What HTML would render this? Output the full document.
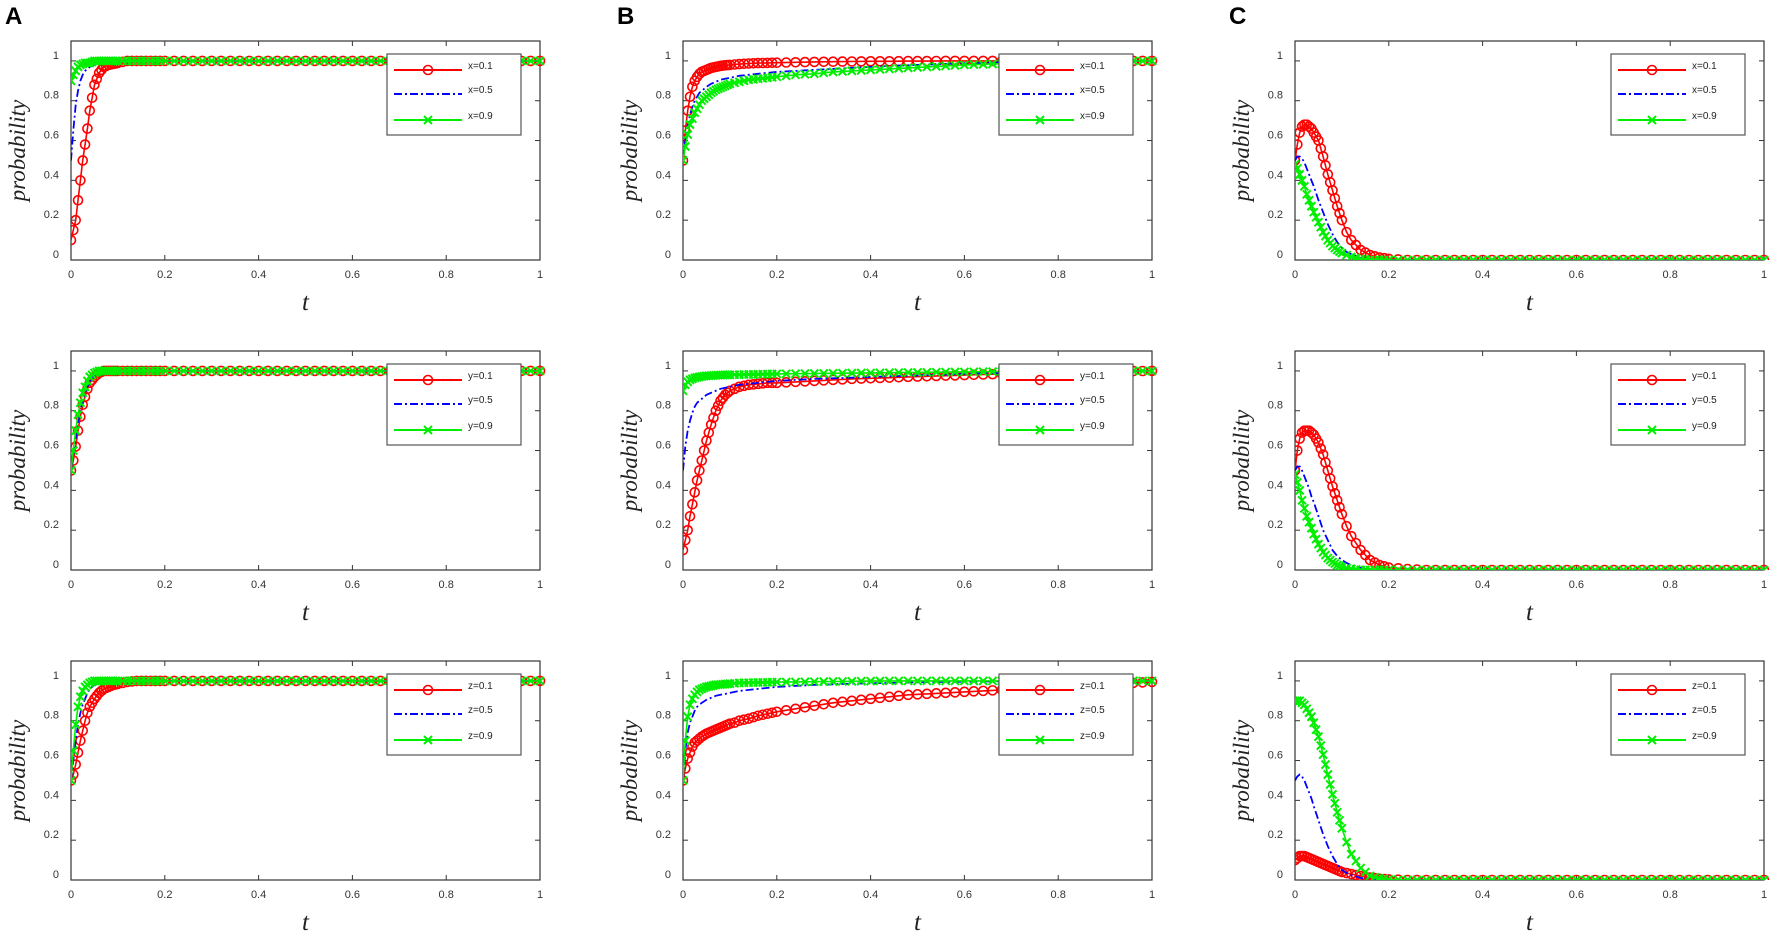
<!DOCTYPE html>
<html><head><meta charset="utf-8"><style>
html,body{margin:0;padding:0;background:#fff;}
svg{display:block;}
</style></head><body>
<svg id="fig" width="1772" height="939" xmlns="http://www.w3.org/2000/svg"></svg>
<script>
// shared time grid
const tGrid = [0,.005,.01,.015,.02,.025,.03,.035,.04,.05,.06,.07,.08,.09,.1,.11,.12,.14,.16,.18,.2,
 .24,.28,.32,.36,.4,.44,.48,.52,.56,.6,.64,.68,.72,.76,.8,.84,.88,.92,.96,1.0];
const xTicks = [0,0.2,0.4,0.6,0.8,1];
const yTicks = [0,0.2,0.4,0.6,0.8,1];
const xTickLabels = ['0','0.2','0.4','0.6','0.8','1'];
const yTickLabels = ['0','0.2','0.4','0.6','0.8','1'];
const panelLetters = ['A','B','C'];
const legendVars = ['x','y','z'];
const legendLevels = ['0.1','0.5','0.9'];

// Column A
const A1_red   = [.1,.15,.2,.3,.4,.5,.58,.66,.75,.88,.94,.97,.98,.985,.99,.995,1,1,1,1,1, 1,1,1,1,1,1,1,1,1,1,1,1,1,1,1,1,1,1,1,1];
const A1_blue  = [.5,.65,.78,.85,.9,.93,.95,.96,.97,.98,.99,1,1,1,1,1,1,1,1,1,1, 1,1,1,1,1,1,1,1,1,1,1,1,1,1,1,1,1,1,1,1];
const A1_green = [.9,.93,.95,.97,.98,.985,.99,.99,.99,1,1,1,1,1,1,1,1,1,1,1,1, 1,1,1,1,1,1,1,1,1,1,1,1,1,1,1,1,1,1,1,1];
const A2_red   = [.5,.55,.62,.7,.77,.83,.87,.91,.94,.97,.99,1,1,1,1,1,1,1,1,1,1, 1,1,1,1,1,1,1,1,1,1,1,1,1,1,1,1,1,1,1,1];
const A2_blue  = [.5,.58,.66,.74,.8,.85,.89,.92,.95,.98,.99,1,1,1,1,1,1,1,1,1,1, 1,1,1,1,1,1,1,1,1,1,1,1,1,1,1,1,1,1,1,1];
const A2_green = [.5,.6,.7,.78,.84,.89,.92,.95,.97,.99,1,1,1,1,1,1,1,1,1,1,1, 1,1,1,1,1,1,1,1,1,1,1,1,1,1,1,1,1,1,1,1];
const A3_red   = [.5,.53,.58,.64,.7,.75,.8,.84,.87,.91,.94,.96,.97,.98,.985,.99,.995,1,1,1,1, 1,1,1,1,1,1,1,1,1,1,1,1,1,1,1,1,1,1,1,1];
const A3_blue  = [.5,.6,.7,.78,.84,.88,.91,.94,.96,.98,.99,1,1,1,1,1,1,1,1,1,1, 1,1,1,1,1,1,1,1,1,1,1,1,1,1,1,1,1,1,1,1];
const A3_green = [.5,.65,.78,.87,.92,.95,.97,.98,.99,1,1,1,1,1,1,1,1,1,1,1,1, 1,1,1,1,1,1,1,1,1,1,1,1,1,1,1,1,1,1,1,1];
// Column B
const B1_red   = [.5,.65,.75,.82,.87,.9,.92,.935,.945,.955,.965,.97,.975,.978,.98,.982,.984,.987,.989,.99,.991, .993,.995,.996,.997,.998,.998,.999,.999,1,1,1,1,1,1,1,1,1,1,1,1];
const B1_blue  = [.5,.6,.68,.73,.77,.8,.82,.84,.85,.87,.885,.895,.905,.91,.915,.92,.925,.93,.935,.94,.945, .95,.955,.96,.965,.97,.975,.978,.982,.985,.988,.99,.992,.994,.996,.997,.998,.999,1,1,1];
const B1_green = [.5,.57,.63,.68,.71,.74,.76,.78,.8,.82,.84,.855,.865,.875,.885,.89,.895,.905,.91,.915,.92, .93,.935,.945,.95,.955,.96,.965,.97,.975,.98,.983,.986,.989,.992,.994,.996,.998,.999,1,1];
const B2_red   = [.1,.15,.2,.27,.33,.39,.45,.5,.55,.65,.73,.8,.85,.88,.9,.91,.92,.93,.935,.94,.94, .945,.95,.955,.96,.963,.966,.97,.973,.976,.979,.982,.985,.988,.99,.992,.994,.996,.998,.999,1];
const B2_blue  = [.5,.62,.7,.75,.79,.82,.84,.85,.86,.88,.89,.9,.91,.915,.92,.925,.93,.935,.94,.945,.95, .955,.96,.963,.966,.97,.973,.976,.979,.982,.985,.988,.99,.992,.994,.996,.997,.998,.999,1,1];
const B2_green = [.9,.93,.945,.955,.96,.965,.968,.97,.972,.975,.977,.978,.979,.98,.98,.981,.981,.982,.983,.984,.985, .986,.987,.988,.989,.99,.991,.992,.993,.994,.995,.996,.997,.998,.998,.999,.999,1,1,1,1];
const B3_red   = [.5,.56,.61,.64,.67,.69,.7,.71,.72,.735,.745,.755,.765,.775,.785,.79,.8,.81,.825,.835,.845, .86,.875,.89,.9,.91,.92,.93,.935,.94,.945,.95,.955,.96,.965,.97,.975,.98,.985,.99,.995];
const B3_blue  = [.5,.65,.74,.79,.82,.85,.87,.88,.89,.905,.915,.925,.93,.935,.94,.945,.95,.955,.96,.965,.97, .975,.98,.983,.986,.988,.99,.992,.994,.995,.996,.997,.998,.999,1,1,1,1,1,1,1];
const B3_green = [.5,.7,.82,.88,.91,.93,.945,.955,.96,.97,.975,.98,.982,.984,.986,.988,.99,.991,.992,.993,.994, .995,.996,.997,.998,.999,1,1,1,1,1,1,1,1,1,1,1,1,1,1,1];
// Column C
const C1_red   = [.5,.58,.64,.67,.68,.68,.67,.66,.64,.6,.52,.43,.35,.27,.2,.14,.1,.05,.025,.012,.006, 0,0,0,0,0,0,0,0,0,0,0,0,0,0,0,0,0,0,0,0];
const C1_blue  = [.5,.52,.52,.51,.49,.46,.43,.4,.37,.3,.24,.18,.13,.09,.06,.04,.03,.01,.005,0,0, 0,0,0,0,0,0,0,0,0,0,0,0,0,0,0,0,0,0,0,0];
const C1_green = [.48,.46,.43,.4,.37,.33,.3,.27,.24,.19,.14,.1,.07,.05,.035,.025,.015,.005,0,0,0, 0,0,0,0,0,0,0,0,0,0,0,0,0,0,0,0,0,0,0,0];
const C2_red   = [.5,.6,.66,.69,.7,.7,.7,.69,.68,.64,.58,.5,.42,.35,.28,.22,.17,.1,.05,.025,.012, .005,0,0,0,0,0,0,0,0,0,0,0,0,0,0,0,0,0,0,0];
const C2_blue  = [.5,.52,.52,.5,.47,.44,.41,.37,.34,.27,.2,.15,.1,.07,.05,.035,.025,.01,.004,0,0, 0,0,0,0,0,0,0,0,0,0,0,0,0,0,0,0,0,0,0,0];
const C2_green = [.48,.44,.4,.35,.31,.27,.24,.21,.18,.13,.09,.06,.04,.025,.015,.01,.006,0,0,0,0, 0,0,0,0,0,0,0,0,0,0,0,0,0,0,0,0,0,0,0,0];
const C3_red   = [.1,.11,.12,.12,.12,.115,.11,.105,.1,.09,.08,.07,.06,.05,.04,.035,.03,.02,.012,.006,.003, 0,0,0,0,0,0,0,0,0,0,0,0,0,0,0,0,0,0,0,0];
const C3_blue  = [.5,.52,.53,.52,.5,.47,.44,.41,.37,.3,.23,.17,.12,.08,.05,.035,.025,.01,.004,0,0, 0,0,0,0,0,0,0,0,0,0,0,0,0,0,0,0,0,0,0,0];
const C3_green = [.9,.9,.9,.89,.88,.86,.84,.82,.79,.72,.63,.53,.43,.34,.26,.19,.13,.06,.02,.008,.003, 0,0,0,0,0,0,0,0,0,0,0,0,0,0,0,0,0,0,0,0];

const panels = [
  [[A1_red,A1_blue,A1_green],[A2_red,A2_blue,A2_green],[A3_red,A3_blue,A3_green]],
  [[B1_red,B1_blue,B1_green],[B2_red,B2_blue,B2_green],[B3_red,B3_blue,B3_green]],
  [[C1_red,C1_blue,C1_green],[C2_red,C2_blue,C2_green],[C3_red,C3_blue,C3_green]]
];

const NS='http://www.w3.org/2000/svg';
const svg=document.getElementById('fig');
function mk(tag,attrs,parent){const e=document.createElementNS(NS,tag);for(const k in attrs)e.setAttribute(k,attrs[k]);(parent||svg).appendChild(e);return e;}

// marker sampling positions along the curve (solver-like spacing: dense early)
const markerT=[];
for(let t=0;t<0.1-1e-9;t+=0.005)markerT.push(t);
for(let t=0.1;t<0.2-1e-9;t+=0.01)markerT.push(t);
for(let t=0.2;t<=1+1e-9;t+=0.02)markerT.push(t);
function interp(vals,t){
  for(let i=1;i<tGrid.length;i++){
    if(t<=tGrid[i]+1e-12){const a=tGrid[i-1],b=tGrid[i];const f=(t-a)/(b-a);return vals[i-1]+(vals[i]-vals[i-1])*f;}
  }
  return vals[vals.length-1];
}

const LEFTS=[71,683,1295], TOPS=[41,351,661], W=469, H=219, YMAX=1.1;
const COLORS=['#ff0000','#0000ff','#00ee00'];

panelLetters.forEach((L,c)=>{
  const t=mk('text',{x:LEFTS[c]-66,y:24,'font-family':'Liberation Sans, sans-serif','font-weight':'bold','font-size':'24'});
  
  
  t.textContent=L;
});

for(let c=0;c<3;c++){
  for(let r=0;r<3;r++){
    const L=LEFTS[c],T=TOPS[r],B=T+H,R=L+W;
    const sx=v=>L+v*W, sy=v=>B-v/YMAX*H;
    const g=mk('g',{});
    
    
    const clipId='clip'+c+r;
    const cp=mk('clipPath',{id:clipId},g);mk('rect',{x:L,y:T-6,width:W+6,height:H+6},cp);
    const box=mk('rect',{x:L,y:T,width:W,height:H,fill:'none',stroke:'#333','stroke-width':1.2},g);
    
    
    xTicks.forEach((v,i)=>{
      const x=sx(v);
      mk('line',{x1:x,y1:B,x2:x,y2:B-5,stroke:'#333'},g);
      mk('line',{x1:x,y1:T,x2:x,y2:T+5,stroke:'#333'},g);
      const tl=mk('text',{x:x,y:B+18,'text-anchor':'middle','font-family':'Liberation Sans, sans-serif','font-size':'11',fill:'#333'},g);
      
      
      tl.textContent=xTickLabels[i];
    });
    yTicks.forEach((v,i)=>{
      const y=sy(v);
      mk('line',{x1:L,y1:y,x2:L+5,y2:y,stroke:'#333'},g);
      mk('line',{x1:R,y1:y,x2:R-5,y2:y,stroke:'#333'},g);
      const tl=mk('text',{x:L-12,y:y-2,'text-anchor':'end','font-family':'Liberation Sans, sans-serif','font-size':'11',fill:'#333'},g);
      
      
      tl.textContent=yTickLabels[i];
    });
    const yl=mk('text',{x:0,y:0,transform:`translate(${L-46},${T+H/2}) rotate(-90)`,'text-anchor':'middle','font-family':'Liberation Serif, serif','font-style':'italic','font-size':'23',fill:'#222'},g);
    
    
    yl.textContent='probability';
    const xl=mk('text',{x:L+W/2,y:B+50,'text-anchor':'middle','font-family':'Liberation Serif, serif','font-style':'italic','font-size':'25',fill:'#222'},g);
    
    
    xl.textContent='t';

    const series=panels[c][r];
    const plot=mk('g',{'clip-path':`url(#${clipId})`},g);
    series.forEach((vals,s)=>{
      const d=vals.map((v,i)=>(i?'L':'M')+sx(tGrid[i]).toFixed(1)+','+sy(v).toFixed(1)).join(' ');
      const attrs={d:d,fill:'none',stroke:COLORS[s],'stroke-width':s===1?1.8:1.6};
      if(s===1)attrs['stroke-dasharray']='8,3,2,3';
      const p=mk('path',attrs,plot);
      
      
      if(s===0){
        markerT.forEach(t=>{
          const m=mk('circle',{cx:sx(t),cy:sy(interp(vals,t)),r:4.5,fill:'none',stroke:COLORS[0],'stroke-width':1.6},plot);
          
          
        });
      }
      if(s===2){
        markerT.forEach(t=>{
          const x=sx(t),y=sy(interp(vals,t));
          const m=mk('path',{d:`M${x-4},${y-4}L${x+4},${y+4}M${x-4},${y+4}L${x+4},${y-4}`,stroke:COLORS[2],'stroke-width':2},plot);
          
          
        });
      }
    });

    // legend
    const lx=L+316, ly=T+13;
    const lg=mk('g',{},g);
    
    
    mk('rect',{x:lx,y:ly,width:134,height:81,fill:'#fff',stroke:'#555','stroke-width':1.2},lg);
    [16,40,66].forEach((dy,s)=>{
      const y=ly+dy;
      const ent=mk('g',{},lg);
      
      
      const la={x1:lx+7,y1:y,x2:lx+75,y2:y,stroke:COLORS[s],'stroke-width':2};
      if(s===1)la['stroke-dasharray']='8,3,2,3';
      mk('line',la,ent);
      if(s===0)mk('circle',{cx:lx+41,cy:y,r:4.5,fill:'none',stroke:COLORS[0],'stroke-width':1.6},ent);
      if(s===2)mk('path',{d:`M${lx+37},${y-4}L${lx+45},${y+4}M${lx+37},${y+4}L${lx+45},${y-4}`,stroke:COLORS[2],'stroke-width':2},ent);
      const tx=mk('text',{x:lx+81,y:y-1,'font-family':'Liberation Sans, sans-serif','font-size':'10',fill:'#222'},ent);
      tx.textContent=legendVars[r]+'=0.'+legendLevels[s].slice(2);
    });
  }
}
</script>
</body></html>
